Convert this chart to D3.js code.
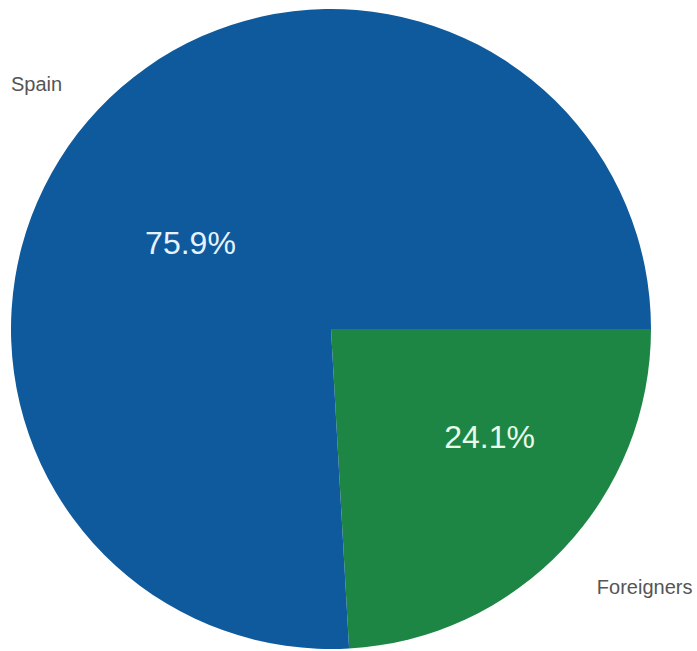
<!DOCTYPE html>
<html>
<head>
<meta charset="utf-8">
<script src="https://cdn.jsdelivr.net/npm/d3@7"></script>
<style>
  html, body { margin: 0; padding: 0; background: #ffffff; }
  svg { display: block; }
</style>
</head>
<body>
<svg id="chart" width="697" height="651"></svg>
<script>
// Population by origin
const categories = ["Foreigners", "Spain"];
const shares = [24.1, 75.9];
const sliceColors = ["#1d8645", "#0f5a9c"];

const width = 697, height = 651;
const cx = 331, cy = 329, radius = 320;

const svg = d3.select("#chart");
const g = svg.append("g").attr("transform", `translate(${cx},${cy})`);

const data = categories.map((c, i) => ({ name: c, value: shares[i], color: sliceColors[i] }));

// First slice starts at 3 o'clock and runs clockwise
const pie = d3.pie()
  .value(d => d.value)
  .sort(null)
  .startAngle(Math.PI / 2)
  .endAngle(Math.PI / 2 + 2 * Math.PI);

const arcs = pie(data);
const arc = d3.arc().innerRadius(0).outerRadius(radius);

g.selectAll("path.slice")
  .data(arcs)
  .join("path")
  .attr("class", "slice")
  .attr("d", arc)
  .attr("fill", d => d.data.color);

const mid = d => (d.startAngle + d.endAngle) / 2;

// Percentage labels inside the slices, on an elliptical ring
const pctNudge = [9, 11];
g.selectAll("text.pct")
  .data(arcs)
  .join("text")
  .attr("class", "pct")
  .attr("x", d => Math.sin(mid(d)) * radius * 0.643 + pctNudge[0])
  .attr("y", d => -Math.cos(mid(d)) * radius * 0.441 + pctNudge[1])
  .attr("text-anchor", "middle")
  .attr("dominant-baseline", "central")
  .attr("font-family", "'Liberation Sans', Arial, Helvetica, sans-serif")
  .attr("font-size", 32)
  .attr("fill", d => d.data.name === "Spain" ? "#e6f3ff" : "#e9fbe9")
  .text(d => d.data.value.toFixed(1) + "%");

// Category names outside the pie
g.selectAll("text.name")
  .data(arcs)
  .join("text")
  .attr("class", "name")
  .attr("x", d => Math.sin(mid(d)) * radius * 1.13 + (Math.sin(mid(d)) > 0 ? 3 : -6))
  .attr("y", d => -Math.cos(mid(d)) * radius * 1.13 + (Math.cos(mid(d)) < 0 ? 17 : 10))
  .attr("text-anchor", d => Math.sin(mid(d)) > 0 ? "start" : "end")
  .attr("font-family", "'Liberation Sans', Arial, Helvetica, sans-serif")
  .attr("font-size", 20)
  .attr("fill", "#555555")
  .text(d => d.data.name);
</script>
</body>
</html>
